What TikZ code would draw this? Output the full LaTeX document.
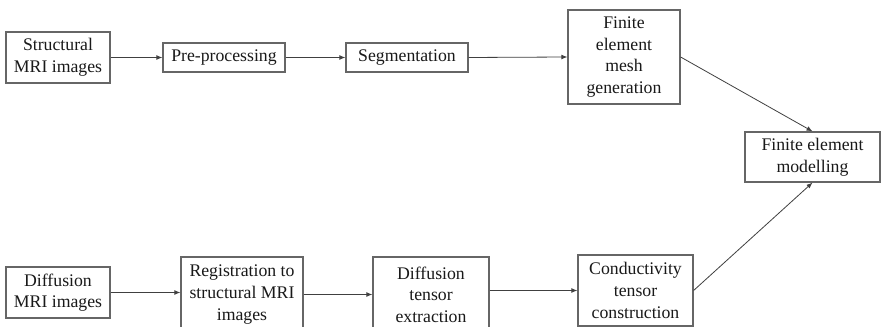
\documentclass[tikz,border=0pt]{standalone}
\usepackage{fontspec}
\setmainfont{Liberation Serif}
\usetikzlibrary{arrows.meta}
\begin{document}
\begin{tikzpicture}[x=0.75pt,y=-0.75pt,
  box/.style={draw=black!60,line width=0.9pt,align=center,inner sep=0pt,
    text=black!90,font=\fontsize{13.3}{16.2}\selectfont},
  arr/.style={draw=black!75,line width=0.6pt,-{Latex[length=4.5pt,width=3.6pt]}}]
\useasboundingbox (0,0) rectangle (881,327);
\clip (0,0) rectangle (881,327);
\fill[white] (0,0) rectangle (881,327);
\node[box,minimum width=104*0.75pt,minimum height=51*0.75pt] (smri) at (58,57.5) {Structural\\MRI images};
\node[box,minimum width=122*0.75pt,minimum height=29*0.75pt] (pre) at (224,57.5) {Pre-processing};
\node[box,minimum width=122*0.75pt,minimum height=29*0.75pt] (seg) at (407,57.5) {Segmentation};
\node[box,minimum width=112*0.75pt,minimum height=94*0.75pt] (mesh) at (624,57) {Finite\\element\\mesh\\generation};
\node[box,minimum width=135*0.75pt,minimum height=50*0.75pt] (fem) at (812.5,157) {Finite element\\modelling};
\node[box,minimum width=104*0.75pt,minimum height=51*0.75pt] (dmri) at (58,292.5) {Diffusion\\MRI images};
\node[box,minimum width=122*0.75pt,minimum height=75*0.75pt] (reg) at (242,294.5) {Registration to\\structural MRI\\images};
\node[box,minimum width=116*0.75pt,minimum height=75*0.75pt] (dte) at (431,294.5) {Diffusion\\tensor\\extraction};
\node[box,minimum width=115*0.75pt,minimum height=71*0.75pt] (cond) at (635.5,290.5) {Conductivity\\tensor\\construction};
\draw[arr] (smri.east) -- (pre.west);
\draw[arr] (pre.east) -- (seg.west);
\draw[arr] (seg.east) -- (mesh.west);
\draw[arr] (mesh.east) -- (fem.north);
\draw[arr] (dmri.east) -- (dmri.east -| reg.west);
\draw[arr] (reg.east) -- (dte.west);
\draw[arr] (dte.east |- cond.west) -- (cond.west);
\draw[arr] (cond.east) -- (fem.south);
\end{tikzpicture}
\end{document}
